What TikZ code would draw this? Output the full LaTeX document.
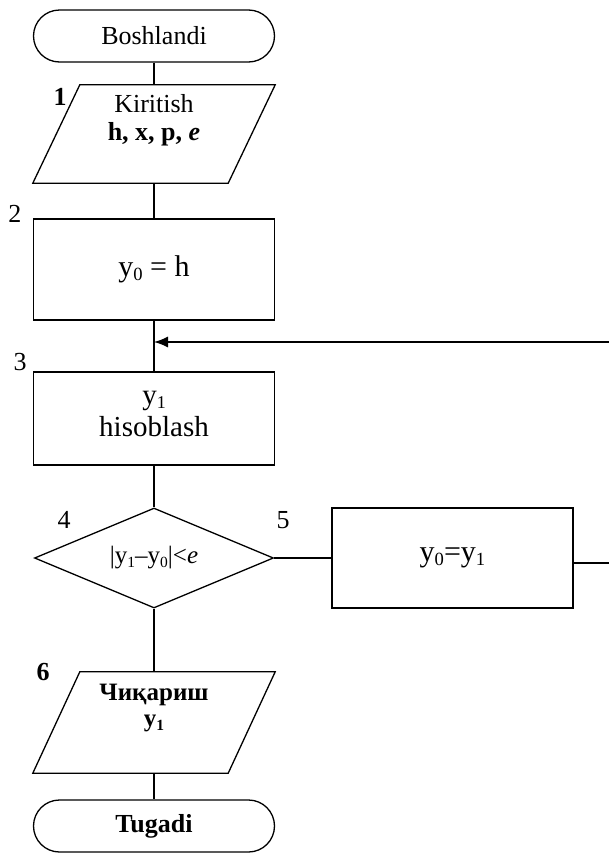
\documentclass[tikz,border=0pt]{standalone}
\usepackage{fontspec}
\setmainfont{Liberation Serif}
\usetikzlibrary{shapes.geometric,shapes.misc,arrows.meta,calc}
\newcommand\sbx[1]{\raisebox{-0.3ex}{\fontsize{0.62em}{1em}\selectfont #1}}
\begin{document}
\begin{tikzpicture}[x=1pt,y=-1pt,
  every node/.style={inner sep=0pt},
  line/.style={line width=1.3pt},
  term/.style={rounded rectangle,draw,line width=1.3pt,minimum width=241pt,minimum height=52pt,font=\fontsize{26}{30}\selectfont},
  procbox/.style={rectangle,draw,line width=1.3pt,minimum width=241pt},
  iobox/.style={rectangle,minimum width=195pt},
  txt/.style={align=center,font=\fontsize{26}{30}\selectfont},
  num/.style={font=\fontsize{26}{28}\selectfont}
]
\useasboundingbox (0,0) rectangle (609,857);

% terminator start
\node[term] (start) at (154,36) {Boshlandi};

% input parallelogram
\node[iobox,minimum height=98pt] (in) at (154,134) {};
\draw[line] ($(in.north west)+(23.5,0)$) -- ($(in.north east)+(23.5,0)$)
  -- ($(in.south east)+(-23.5,0)$) -- ($(in.south west)+(-23.5,0)$) -- cycle;
\node[txt,anchor=north,font=\fontsize{26}{28}\selectfont] (intext) at (154,94) {Kiritish\\\textbf{h, x, p, \textit{e}}};

% box 2
\node[procbox,minimum height=101pt,font=\fontsize{30}{34}\selectfont] (b2) at (154,269.5) {y\sbx{0} = h};

% box 3
\node[procbox,minimum height=93pt] (b3) at (154,418.5) {};
\node[txt,font=\fontsize{29}{32}\selectfont] (b3text) at (154,414) {y\sbx{1}\\hisoblash};

% diamond
\node[diamond,draw,line width=1.3pt,aspect=2.4,minimum width=239pt,minimum height=100pt,font=\fontsize{25}{30}\selectfont] (dec) at (154,558) {|y\sbx{1}--y\sbx{0}|<\textit{e}};

% box 5
\node[procbox,minimum height=100pt,font=\fontsize{30}{34}\selectfont] (b5) at (452.5,558) {y\sbx{0}=y\sbx{1}};

% output parallelogram
\node[iobox,minimum height=101pt] (out) at (154,722.5) {};
\draw[line] ($(out.north west)+(23.5,0)$) -- ($(out.north east)+(23.5,0)$)
  -- ($(out.south east)+(-23.5,0)$) -- ($(out.south west)+(-23.5,0)$) -- cycle;
\node[txt,anchor=north,font=\bfseries\fontsize{25}{26}\selectfont] (outtext) at (154,684) {Чиқариш\\y\sbx{1}};

% terminator end
\node[term,font=\bfseries\fontsize{26}{30}\selectfont] (stop) at (154,826) {Tugadi};

% labels
\node[num] (l1) at (60,97) {\textbf{1}};
\node[num] (l2) at (15,214) {2};
\node[num] (l3) at (20,362) {3};
\node[num] (l4) at (64,520) {4};
\node[num] (l5) at (283,520) {5};
\node[num] (l6) at (43,672) {\textbf{6}};

% connectors
\draw[line] (start.south) -- (in.north);
\draw[line] (in.south) -- (b2.north);
\draw[line] (b2.south) -- (b3.north);
\draw[line] (b3.south) -- (dec.north);
\draw[line] (dec.south) -- (out.north);
\draw[line] (out.south) -- (stop.north);
\draw[line] (dec.east) -- (b5.west);
\coordinate (redge1) at (609,563);
\coordinate (redge2) at (609,342);
\draw[line] (b5.east |- redge1) -- (redge1);
\draw[line,-{Latex[length=14pt,width=11pt]}] (redge2) -- (redge2 -| b3.north);
\end{tikzpicture}
\end{document}
